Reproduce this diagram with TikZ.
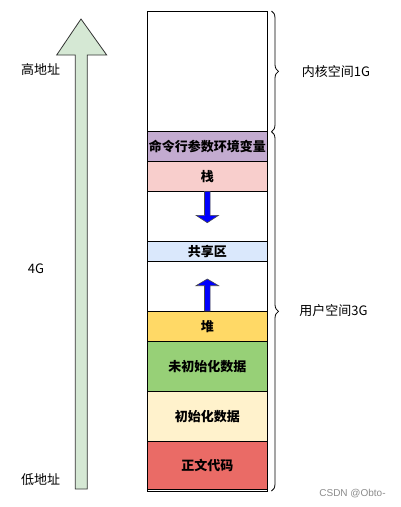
\documentclass[tikz,border=0pt]{standalone}
\usepackage{fontspec}
\setmainfont{Liberation Sans}
\newfontfamily\cjk{Noto Sans CJK SC}
\usetikzlibrary{decorations.pathreplacing}
\definecolor{cmdc}{HTML}{C3ABD0}
\definecolor{stackc}{HTML}{F8CECC}
\definecolor{sharec}{HTML}{DAE8FC}
\definecolor{heapc}{HTML}{FFD966}
\definecolor{bssc}{HTML}{97D077}
\definecolor{datac}{HTML}{FFF2CC}
\definecolor{textc}{HTML}{EA6B66}
\definecolor{bigarrow}{HTML}{D5E8D4}
\tikzset{
  seg/.style={draw=black, line width=1pt, minimum width=120pt, anchor=north west, inner sep=0pt, outer sep=0pt, font=\cjk\bfseries\fontsize{13}{15}\selectfont},
  side/.style={font=\cjk\fontsize{13}{15}\selectfont, inner sep=0pt},
  bluearrow/.style={fill=blue, draw=black!70, line width=0.6pt, line join=miter},
  bracestyle/.style={draw=black, line width=0.8pt, decorate, decoration={brace, amplitude=7pt}}
}
\begin{document}
\begin{tikzpicture}[x=1pt,y=-1pt]
\useasboundingbox (0,0) rectangle (401,507);
\fill[white] (0,0) rectangle (401,507);
% outer rectangle
\node[seg, minimum height=480pt] (outer) at (147.3,11) {};
% segments
\node[seg, fill=white, minimum height=120.7pt] (kernel) at (147.3,11) {};
\node[seg, fill=cmdc, minimum height=30pt] (cmd) at (147.3,131.7) {命令行参数环境变量};
\node[seg, fill=stackc, minimum height=29.6pt] (stack) at (147.3,161.7) {栈};
\node[seg, fill=white, minimum height=50pt] (gap1) at (147.3,191.3) {};
\node[seg, fill=sharec, minimum height=20pt] (share) at (147.3,241.3) {共享区};
\node[seg, fill=white, minimum height=49.7pt] (gap2) at (147.3,261.3) {};
\node[seg, fill=heapc, minimum height=30.3pt] (heap) at (147.3,311) {堆};
\node[seg, fill=bssc, minimum height=50pt] (bss) at (147.3,341.3) {未初始化数据};
\node[seg, fill=datac, minimum height=50pt] (data) at (147.3,391.3) {初始化数据};
\node[seg, fill=textc, minimum height=48pt] (textseg) at (147.3,441.3) {正文代码};
% blue arrows
\coordinate (d0) at (gap1.north);
\draw[bluearrow] (d0) ++(-2.8,0) -- ++(0,24) -- ++(-8.5,0) -- ++(11.3,7.4) -- ++(11.3,-7.4) -- ++(-8.5,0) -- ++(0,-24) -- cycle;
\coordinate (u0) at (gap2.south);
\draw[bluearrow] (u0) ++(-2.8,0) -- ++(0,-25.3) -- ++(-8.5,0) -- ++(11.3,-6.7) -- ++(11.3,6.7) -- ++(-8.5,0) -- ++(0,25.3) -- cycle;
% braces
\coordinate (b1t) at (271.5,11);
\coordinate (b1b) at (271.5,131.7);
\coordinate (b2t) at (271.5,131.7);
\coordinate (b2b) at (271.5,491);
\draw[bracestyle] (b1t) -- (b1b);
\draw[bracestyle] (b2t) -- (b2b);
\node[side] (klabel) at (336,71.5) {内核空间1G};
\node[side] (ulabel) at (333.5,311) {用户空间3G};
% big arrow
\draw[fill=bigarrow, draw=black!80, line width=0.8pt, line join=miter]
  (75.3,489) -- (87.3,489) -- (87.3,55) -- (106.7,55) -- (81,19) -- (56.7,55) -- (75.3,55) -- cycle;
\node[side] (high) at (40.5,70) {高地址};
\node[side] (mid) at (36,269) {4G};
\node[side] (low) at (40.5,480) {低地址};
\node[font=\fontsize{10}{12}\selectfont, text=black!45, inner sep=0pt] (wm) at (352.5,493.5) {CSDN @Obto-};
\end{tikzpicture}
\end{document}
